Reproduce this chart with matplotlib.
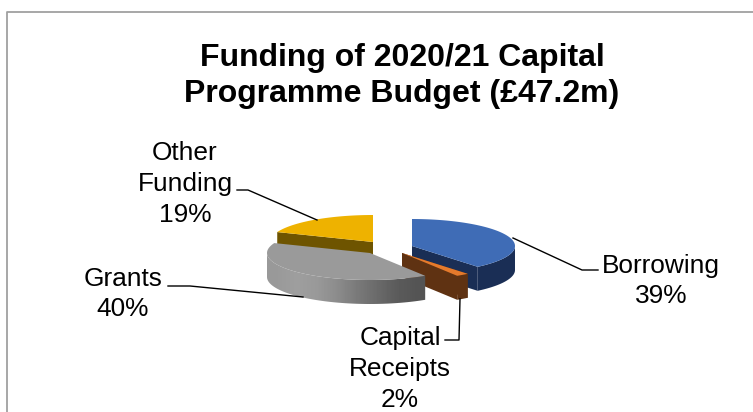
import numpy as np
import matplotlib
matplotlib.use("Agg")
import matplotlib.pyplot as plt
from matplotlib.patches import Polygon

plt.rcParams['font.family'] = ['Liberation Sans', 'DejaVu Sans']

title = "Funding of 2020/21 Capital\nProgramme Budget (£47.2m)"
labels = ["Borrowing", "Capital\nReceipts", "Grants", "Other\nFunding"]
shares = [39, 2, 40, 19]

top_colors = ["#3f6cb6", "#e57a2c", "#9a9a9a", "#eeb200"]
side_colors = ["#1a2e55", "#5f3212", None, "#6e5400"]

# apex of each slice in pixels, they are all pulled out a different way
apex = [(412, 246), (402, 253), (370, 253), (373, 242)]
RX = 103
RY = 27
DEPTH = 24

fig = plt.figure(figsize=(7.53, 4.12), dpi=100)
ax = fig.add_axes([0, 0, 1, 1])
ax.set_xlim(0, 753)
ax.set_ylim(412, 0)
ax.axis("off")

# chart frame, runs off the bottom and right of the image
ax.plot([7, 7, 753], [412, 12, 12], color="#a0a0a0", lw=1.3)


def rim(center, a0, a1):
    # angles clockwise from 12 o'clock
    t = np.radians(np.linspace(a0, a1, 80))
    return np.column_stack([center[0] + RX * np.sin(t), center[1] - RY * np.cos(t)])


def drawSlice(i, a0, a1, z):
    c = np.array(apex[i], dtype=float)
    edge = rim(c, a0, a1)
    drop = np.array([0, DEPTH])

    # cut faces first
    first_face = [c, edge[0], edge[0] + drop, c + drop]
    last_face = [c, edge[-1], edge[-1] + drop, c + drop]
    # outer wall, only the part facing us
    lo, hi = max(a0, 90), min(a1, 270)
    wall = None
    if lo < hi:
        front = rim(c, lo, hi)
        wall = np.vstack([front, (front + drop)[::-1]])

    if side_colors[i] is None:
        # grey slice has the shaded wall
        patch = ax.add_patch(Polygon(wall, closed=True, fc="none", ec="none"))
        gradient = np.array([[0.60, 0.62, 0.60, 0.55, 0.48, 0.42, 0.36, 0.33]])
        im = ax.imshow(gradient, cmap="gray", vmin=0, vmax=1, aspect="auto", zorder=z,
                       extent=(wall[:, 0].min(), wall[:, 0].max(), wall[:, 1].max(), wall[:, 1].min()),
                       interpolation="bilinear")
        im.set_clip_path(patch)
    else:
        for face in (first_face, last_face):
            ax.add_patch(Polygon(face, closed=True, fc=side_colors[i], ec="none", zorder=z))
        if wall is not None:
            ax.add_patch(Polygon(wall, closed=True, fc=side_colors[i], ec="none", zorder=z))

    ax.add_patch(Polygon(np.vstack([c, edge]), closed=True, fc=top_colors[i], ec="none", zorder=z + 0.5))


# yellow at the back, grey over the orange one
start = np.cumsum([0] + shares[:-1]) * 3.6
stop = np.cumsum(shares) * 3.6
for z, i in enumerate([3, 0, 1, 2]):
    drawSlice(i, start[i], stop[i], z + 2)
ax.set_xlim(0, 753)
ax.set_ylim(412, 0)

ax.text(402, 76, title, ha="center", va="center", fontsize=23, fontweight="bold", color="black", linespacing=1.22)

TEXT = dict(ha="center", va="center", fontsize=18.9, color="black", linespacing=1.35)
ax.text(661, 281, "%s\n%d%%" % (labels[0], shares[0]), **TEXT)
ax.text(400, 369, "%s\n%d%%" % (labels[1], shares[1]), **TEXT)
ax.text(123, 294, "%s\n%d%%" % (labels[2], shares[2]), **TEXT)
ax.text(185, 184, "%s\n%d%%" % (labels[3], shares[3]), **TEXT)

# leader lines
LINE = dict(color="black", lw=1.0, zorder=10)
ax.plot([513, 582, 598], [238, 270, 270], **LINE)
ax.plot([460, 459, 445], [299, 340, 340], **LINE)
ax.plot([168, 190, 303], [286, 286, 297], **LINE)
ax.plot([237, 248, 317], [190, 190, 220], **LINE)

fig.savefig("out.png", dpi=100)
